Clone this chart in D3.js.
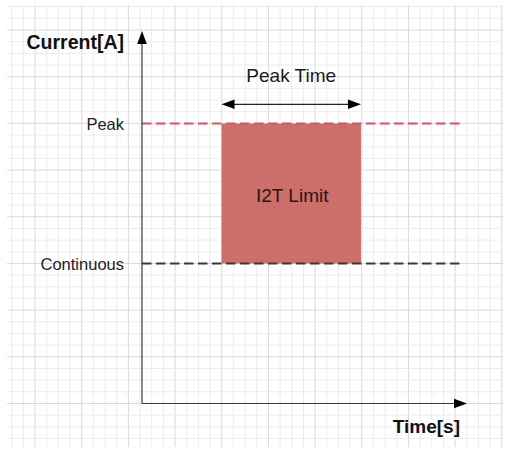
<!DOCTYPE html>
<html><head><meta charset="utf-8">
<script src="https://cdn.jsdelivr.net/npm/d3@7"></script>
<style>body{margin:0;background:#fff}svg{display:block}</style>
</head><body>
<script>
// Data
const levels = ["Peak", "Continuous"];
const levelValues = [100, 50];
const levelColors = ["#e0505c", "#3a3a3a"];
const peakWindow = [24.7, 68];        // time span of peak
const limitLabel = "I2T Limit";
const spanLabel = "Peak Time";
const axisLabels = ["Current[A]", "Time[s]"];

const W = 507, H = 450;
const svg = d3.select("body").append("svg").attr("width", W).attr("height", H);

const x = d3.scaleLinear().domain([0, 100]).range([142, 464]);
const y = d3.scaleLinear().domain([0, 100]).range([403.5, 123.5]);

// grid
const g0 = svg.append("g");
const step = 11.67;
for (let k = 1; k * step < 503; k++) {
  const xx = k * step;
  g0.append("line").attr("x1", xx).attr("x2", xx).attr("y1", 5).attr("y2", 447)
    .attr("stroke", k % 4 === 3 ? "#d9d9d9" : "#ececec").attr("stroke-width", 1);
}
for (let k = 0; 6.7 + k * step < 448; k++) {
  const yy = 6.7 + k * step;
  g0.append("line").attr("x1", 7).attr("x2", 503).attr("y1", yy).attr("y2", yy)
    .attr("stroke", k % 4 === 2 ? "#d9d9d9" : "#ececec").attr("stroke-width", 1);
}

// limit rectangle
svg.append("rect")
  .attr("x", x(peakWindow[0])).attr("y", y(levelValues[0]))
  .attr("width", x(peakWindow[1]) - x(peakWindow[0]))
  .attr("height", y(levelValues[1]) - y(levelValues[0]))
  .attr("fill", "#cc6e69");

svg.append("text").attr("x", (x(peakWindow[0]) + x(peakWindow[1])) / 2 + 1)
  .attr("y", (y(levelValues[0]) + y(levelValues[1])) / 2 + 8)
  .attr("text-anchor", "middle").attr("font-family", "Liberation Sans, Arial, sans-serif")
  .attr("font-size", 19).attr("fill", "#2a1616").text(limitLabel);

// dashed level lines
levels.forEach((name, i) => {
  svg.append("line").attr("x1", x(0)).attr("x2", x(100) - 1)
    .attr("y1", y(levelValues[i])).attr("y2", y(levelValues[i]))
    .attr("stroke", levelColors[i]).attr("stroke-width", 1.9)
    .attr("stroke-dasharray", "9.5,4.5");
  svg.append("text").attr("x", 124).attr("y", y(levelValues[i]) + 6)
    .attr("text-anchor", "end").attr("font-family", "Liberation Sans, Arial, sans-serif")
    .attr("font-size", 16.5).attr("fill", "#222").text(name);
});

// axes
const ax = svg.append("g").attr("stroke", "#3a3a3a").attr("stroke-width", 1.2);
ax.append("line").attr("x1", x(0)).attr("x2", x(0)).attr("y1", y(0)).attr("y2", 40);
ax.append("line").attr("x1", x(0)).attr("x2", 458).attr("y1", y(0)).attr("y2", y(0));
svg.append("path").attr("d", `M${x(0)},31 L${x(0)-4.8},44 L${x(0)+4.8},44 Z`).attr("fill", "#000");
svg.append("path").attr("d", `M467,${y(0)} L454,${y(0)-4.8} L454,${y(0)+4.8} Z`).attr("fill", "#000");

svg.append("text").attr("x", 124).attr("y", 49).attr("text-anchor", "end")
  .attr("font-family", "Liberation Sans, Arial, sans-serif").attr("font-weight", "bold")
  .attr("font-size", 19.5).attr("fill", "#111").text(axisLabels[0]);
svg.append("text").attr("x", 460).attr("y", 433).attr("text-anchor", "end")
  .attr("font-family", "Liberation Sans, Arial, sans-serif").attr("font-weight", "bold")
  .attr("font-size", 19).attr("fill", "#111").text(axisLabels[1]);

// peak time double arrow
const ay = 104.3, x0 = x(peakWindow[0]), x1 = x(peakWindow[1]);
svg.append("line").attr("x1", x0 + 10).attr("x2", x1 - 10).attr("y1", ay).attr("y2", ay)
  .attr("stroke", "#222").attr("stroke-width", 1.3);
svg.append("path").attr("d", `M${x0},${ay} L${x0+13},${ay-4.8} L${x0+13},${ay+4.8} Z`).attr("fill", "#000");
svg.append("path").attr("d", `M${x1},${ay} L${x1-13},${ay-4.8} L${x1-13},${ay+4.8} Z`).attr("fill", "#000");
svg.append("text").attr("x", (x0 + x1) / 2).attr("y", 82).attr("text-anchor", "middle")
  .attr("font-family", "Liberation Sans, Arial, sans-serif").attr("font-size", 19)
  .attr("fill", "#1a1a1a").text(spanLabel);
</script>
</body></html>
